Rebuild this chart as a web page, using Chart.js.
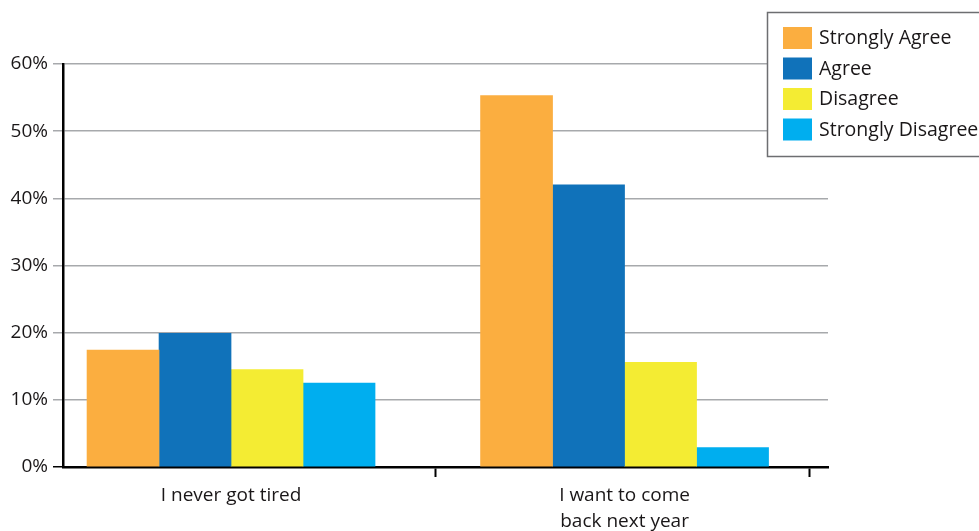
<!DOCTYPE html>
<html>
<head>
<meta charset="utf-8">
<script src="https://cdn.jsdelivr.net/npm/chart.js@4/dist/chart.umd.min.js"></script>
<style>
  body { margin: 0; background: #fff; }
  #wrap { width: 979px; height: 531px; position: relative; }
</style>
</head>
<body>
<div id="wrap"><canvas id="surveyChart"></canvas></div>
<script>
var categories = ['I never got tired', ['I want to come', 'back next year']];
var categoryPositions = [0, 1];
var dividerPositions = [0.52, 1.47];

var seriesLabels = ['Strongly Agree', 'Agree', 'Disagree', 'Strongly Disagree'];
var stronglyAgree = [17.4, 55.3];
var agree = [19.9, 42.0];
var disagree = [14.5, 15.6];
var stronglyDisagree = [12.5, 2.9];

var yTicks = [0, 10, 20, 30, 40, 50, 60];

var colors = ['#fbae40', '#1072ba', '#f4ec33', '#00aeef'];
var textColor = '#1a1718';
var fontFamily = '"Open Sans", sans-serif';

function points(values) {
  return values.map(function (v, i) { return { x: categoryPositions[i], y: v }; });
}

var seriesValues = [stronglyAgree, agree, disagree, stronglyDisagree];
var datasets = seriesValues.map(function (values, i) {
  return {
    label: seriesLabels[i],
    data: points(values),
    backgroundColor: colors[i],
    borderWidth: 0,
    barThickness: 72
  };
});

// legend box drawn over the top right corner, like the original
var boxLegend = {
  id: 'boxLegend',
  afterDraw: function (chart) {
    var ctx = chart.ctx;
    ctx.save();
    ctx.fillStyle = '#fff';
    ctx.fillRect(767, 12, 240, 144);
    ctx.strokeStyle = '#6d6e71';
    ctx.lineWidth = 1.5;
    ctx.strokeRect(767.5, 12.5, 240, 144);
    ctx.font = '19.5px ' + fontFamily;
    ctx.textBaseline = 'middle';
    ctx.textAlign = 'left';
    chart.data.datasets.forEach(function (ds, i) {
      var top = 27 + i * 30.5;
      ctx.fillStyle = ds.backgroundColor;
      ctx.fillRect(783, top, 29, 22);
      ctx.fillStyle = textColor;
      ctx.fillText(ds.label, 819, top + 11.5);
    });
    ctx.restore();
  }
};

new Chart(document.getElementById('surveyChart'), {
  type: 'bar',
  data: { datasets: datasets },
  options: {
    responsive: true,
    maintainAspectRatio: false,
    animation: false,
    layout: { padding: { top: 64, right: 151, left: 0, bottom: 0 } },
    plugins: {
      legend: { display: false },
      tooltip: { enabled: false }
    },
    scales: {
      x: {
        type: 'linear',
        min: -0.427,
        max: 1.517,
        offset: false,
        afterBuildTicks: function (scale) {
          scale.ticks = categoryPositions.concat(dividerPositions)
            .sort(function (a, b) { return a - b; })
            .map(function (v) { return { value: v }; });
        },
        afterFit: function (scale) { scale.height = 64; },
        grid: {
          offset: false,
          drawOnChartArea: false,
          drawTicks: true,
          tickLength: 10,
          tickWidth: 2,
          tickColor: function (ctx) {
            return ctx.tick && dividerPositions.indexOf(ctx.tick.value) !== -1 ? '#000' : 'rgba(0,0,0,0)';
          }
        },
        border: { color: '#000', width: 2.5 },
        ticks: {
          autoSkip: false,
          maxRotation: 0,
          padding: 6,
          color: textColor,
          font: { family: fontFamily, size: 19, lineHeight: 1.37 },
          callback: function (value) {
            var idx = categoryPositions.indexOf(value);
            return idx === -1 ? '' : categories[idx];
          }
        }
      },
      y: {
        min: 0,
        max: 60,
        afterBuildTicks: function (scale) {
          scale.ticks = yTicks.map(function (v) { return { value: v }; });
        },
        afterFit: function (scale) { scale.width = 63; },
        grid: {
          color: function (ctx) { return ctx.tick && ctx.tick.value === 0 ? '#000' : '#a7a9ac'; },
          lineWidth: 1.5,
          tickLength: 10
        },
        border: { color: '#000', width: 2.5 },
        ticks: {
          padding: 5,
          color: textColor,
          font: { family: fontFamily, size: 19 },
          callback: function (value) { return value + '%'; }
        }
      }
    }
  },
  plugins: [boxLegend]
});
</script>
</body>
</html>
